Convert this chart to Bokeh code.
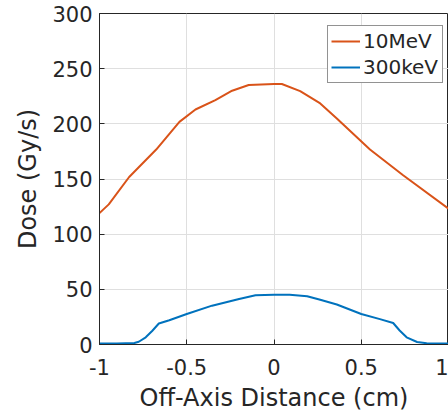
from bokeh.plotting import figure
from bokeh.models import FixedTicker, Legend, LegendItem, Range1d
from bokeh.embed import file_html
from bokeh.resources import INLINE

# ---- data ----
x_10mev = [-1.0, -0.947, -0.83, -0.675, -0.542, -0.45, -0.336, -0.24, -0.145,
           0.0, 0.045, 0.15, 0.265, 0.36, 0.55, 0.74, 1.0]
dose_10mev = [119.1, 127.0, 151.8, 176.7, 201.8, 213.0, 221.5, 230.0, 235.2,
              236.1, 236.1, 229.7, 218.5, 204.9, 176.7, 153.4, 123.1]

x_300kev = [-1.0, -0.9, -0.8, -0.775, -0.735, -0.697, -0.66, -0.6, -0.5, -0.355,
            -0.2, -0.106, 0.0, 0.09, 0.19, 0.265, 0.36, 0.5, 0.607, 0.683,
            0.72, 0.76, 0.82, 0.875, 1.0]
dose_300kev = [0.8, 0.9, 1.3, 2.5, 6.5, 12.5, 19.0, 22.0, 27.6, 35.2,
               41.3, 44.6, 45.2, 45.2, 43.8, 40.5, 36.3, 27.6, 23.0, 19.5,
               12.7, 6.5, 2.3, 1.2, 0.8]

series_names = ["10MeV", "300keV"]
x_ticks = [-1, -0.5, 0, 0.5, 1]
x_tick_labels = ["-1", "-0.5", "0", "0.5", "1"]
y_ticks = [0, 50, 100, 150, 200, 250, 300]
y_tick_labels = ["0", "50", "100", "150", "200", "250", "300"]
x_label = "Off-Axis Distance (cm)"
y_label = "Dose (Gy/s)"

# ---- styling ----
ORANGE = "#D95319"
BLUE = "#0072BD"
AX = "#262626"
FONT = "DejaVu Sans"

p = figure(width=448, height=415, output_backend="svg", toolbar_location=None,
           x_range=Range1d(-1, 1), y_range=Range1d(0, 300),
           min_border_left=99, min_border_right=0, min_border_top=13,
           min_border_bottom=71)

r1 = p.line(x_10mev, dose_10mev, line_color=ORANGE, line_width=2)
r2 = p.line(x_300kev, dose_300kev, line_color=BLUE, line_width=2)

p.xaxis.ticker = FixedTicker(ticks=x_ticks)
p.yaxis.ticker = FixedTicker(ticks=y_ticks)
p.xaxis.major_label_overrides = dict(zip(x_ticks, x_tick_labels))
p.yaxis.major_label_overrides = dict(zip(y_ticks, y_tick_labels))
p.xaxis.axis_label = x_label
p.yaxis.axis_label = y_label

for ax in (p.xaxis, p.yaxis):
    ax.axis_line_color = AX
    ax.axis_line_width = 1
    ax.major_tick_line_color = AX
    ax.major_tick_in = 5
    ax.major_tick_out = 0
    ax.minor_tick_line_color = None
    ax.major_label_text_font = FONT
    ax.major_label_text_font_size = "21px"
    ax.major_label_text_color = AX
    ax.axis_label_text_font = FONT
    ax.axis_label_text_font_size = "24px"
    ax.axis_label_text_font_style = "normal"
    ax.axis_label_text_color = AX

p.xaxis.major_label_standoff = 14
p.xaxis.axis_label_standoff = 6
p.yaxis.major_label_standoff = 7
p.yaxis.axis_label_standoff = 7

p.xgrid.grid_line_color = "#dfdfdf"
p.ygrid.grid_line_color = "#dfdfdf"
p.outline_line_color = AX
p.outline_line_width = 1
p.background_fill_color = "white"
p.border_fill_color = "white"

legend = Legend(items=[LegendItem(label=series_names[0], renderers=[r1]),
                       LegendItem(label=series_names[1], renderers=[r2])],
                location=(228, 261), margin=0, padding=3, spacing=2,
                glyph_width=29, glyph_height=20, label_standoff=3,
                label_width=76, label_height=23,
                label_text_font=FONT, label_text_font_size="20px",
                label_text_color=AX,
                border_line_color=AX, border_line_width=1,
                background_fill_color="white", background_fill_alpha=1)
p.add_layout(legend)

open("out.html", "w").write(file_html(p, INLINE))
